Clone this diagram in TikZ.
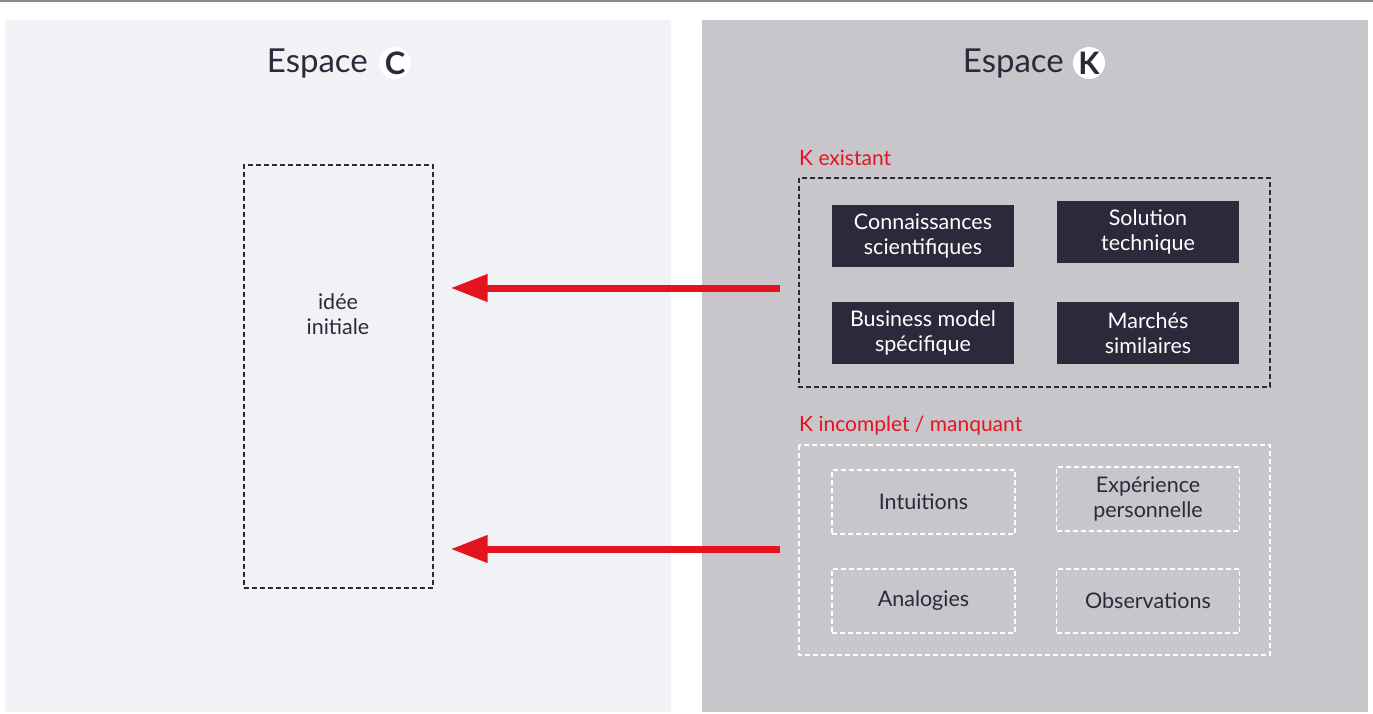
\documentclass[tikz,border=0pt]{standalone}
\usepackage{fontspec}
\setmainfont{Lato}
\usetikzlibrary{arrows.meta}
\definecolor{panelC}{HTML}{F1F2F6}
\definecolor{panelK}{HTML}{C8C6CB}
\definecolor{ink}{HTML}{2B2A3A}
\definecolor{kred}{HTML}{E3141F}
\definecolor{topline}{HTML}{8C8C8C}
\tikzset{
  title/.style={font=\fontsize{33}{36}\selectfont, text=ink, inner sep=0pt},
  badge/.style={circle, fill=white, minimum size=32pt, inner sep=0pt, font=\fontsize{31}{32}\selectfont\bfseries, text=ink},
  redlabel/.style={font=\fontsize{21}{24}\selectfont, text=kred, anchor=west, inner sep=0pt},
  darkbox/.style={fill=ink, text=white, minimum width=182pt, minimum height=62pt, align=center, inner sep=0pt, font=\fontsize{21.5}{25}\selectfont},
  lightbox/.style={draw=white, dash pattern=on 5pt off 3pt, line width=1.2pt, text=ink, minimum width=183pt, minimum height=64pt, align=center, inner sep=0pt, font=\fontsize{21.5}{25}\selectfont},
  groupbox/.style={dash pattern=on 5pt off 3pt, line width=1.2pt},
  bigarrow/.style={draw=kred, line width=7pt, -{Triangle[length=37pt,width=26pt]}},
}
\begin{document}
\begin{tikzpicture}[x=1pt,y=-1pt]
\useasboundingbox (0,0) rectangle (1373,713);
\fill[white] (0,0) rectangle (1373,713);
\fill[topline] (0,0) rectangle (1373,2);
% panels
\fill[panelC] (5,20) rectangle (671,712);
\fill[panelK] (702,20) rectangle (1368,712);
% titles
\node[title, anchor=east] (tC) at (368,64) {Espace};
\node[badge] (bC) at (395,63) {C};
\node[title, anchor=east] (tK) at (1064,64) {Espace};
\node[badge] (bK) at (1089,63) {K};
% idea box
\node[draw=ink, dash pattern=on 5pt off 3pt, line width=1.2pt, minimum width=189pt, minimum height=423pt, inner sep=0pt] (idea) at (338.5,376.5) {};
\node[font=\fontsize{21.5}{25}\selectfont, text=ink, align=center, inner sep=0pt] (ideatxt) at (338,314) {idée\\initiale};
% K existant
\node[redlabel] (lex) at (799,158) {K existant};
\draw[groupbox, draw=ink] (799,178) rectangle (1270,387);
\node[darkbox] (k1) at (923,235.5) {Connaissances\\scientifiques};
\node[darkbox] (k2) at (1148,231.5) {Solution\\technique};
\node[darkbox] (k3) at (923,333) {Business model\\spécifique};
\node[darkbox] (k4) at (1148,333) {Marchés\\similaires};
% K incomplet
\node[redlabel] (lin) at (799,426) {K incomplet / manquant};
\draw[groupbox, draw=white] (799,445) rectangle (1270,655);
\node[lightbox] (m1) at (923.5,502) {Intuitions};
\node[lightbox] (m2) at (1148,499) {Expérience\\personnelle};
\node[lightbox] (m3) at (923.5,601) {Analogies};
\node[lightbox] (m4) at (1148,601) {Observations};
% arrows
\coordinate (s1) at (780,288);
\coordinate (s2) at (780,549);
\draw[bigarrow, shorten >=17pt] (s1) -- (idea.east |- s1);
\draw[bigarrow, shorten >=17pt] (s2) -- (idea.east |- s2);
\end{tikzpicture}
\end{document}
